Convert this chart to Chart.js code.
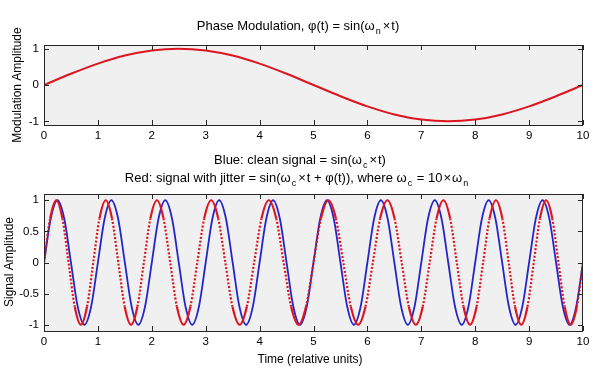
<!DOCTYPE html>
<html lang="en">
<head>
  <meta charset="UTF-8">
  <title>Phase modulation jitter</title>
  <script src="https://cdn.jsdelivr.net/npm/chart.js"></script>
  <style>
    body {
      margin: 0;
      background: #fff;
    }
    #wrap {
      position: relative;
      width: 598px;
      height: 371px;
    }
    canvas {
      position: absolute;
      left: 0;
    }
    #modChart { top: 0; }
    #sigChart { top: 145px; }
  </style>
</head>
<body>
  <div id="wrap">
    <canvas id="modChart" width="598" height="145"></canvas>
    <canvas id="sigChart" width="598" height="226"></canvas>
  </div>

  <script>
    // tick labels
    const xTicks = [0, 1, 2, 3, 4, 5, 6, 7, 8, 9, 10];
    const modTicksY = [-1, 0, 1];
    const sigTicksY = [-1, -0.5, 0, 0.5, 1];

    // top panel: phase modulation curve
    const modT = [0, 0.5, 1, 1.5, 2, 2.5, 3, 3.5, 4, 4.5, 5, 5.5, 6, 6.5, 7, 7.5, 8, 8.5, 9, 9.5, 10];
    const modY = [0, 0.309, 0.588, 0.809, 0.951, 1, 0.951, 0.809, 0.588, 0.309, 0,
                  -0.309, -0.588, -0.809, -0.951, -1, -0.951, -0.809, -0.588, -0.309, 0];

    // bottom panel: both waves pass through the same amplitudes, at different times
    const waveY = [
      0, 0.707, 1, 0.707, 0, -0.707, -1, -0.707,
      0, 0.707, 1, 0.707, 0, -0.707, -1, -0.707,
      0, 0.707, 1, 0.707, 0, -0.707, -1, -0.707,
      0, 0.707, 1, 0.707, 0, -0.707, -1, -0.707,
      0, 0.707, 1, 0.707, 0, -0.707, -1, -0.707,
      0, 0.707, 1, 0.707, 0, -0.707, -1, -0.707,
      0, 0.707, 1, 0.707, 0, -0.707, -1, -0.707,
      0, 0.707, 1, 0.707, 0, -0.707, -1, -0.707,
      0, 0.707, 1, 0.707, 0, -0.707, -1, -0.707,
      0, 0.707, 1, 0.707, 0, -0.707, -1, -0.707,
      0
    ];
    const cleanT = [
      0, 0.125, 0.25, 0.375, 0.5, 0.625, 0.75, 0.875,
      1, 1.125, 1.25, 1.375, 1.5, 1.625, 1.75, 1.875,
      2, 2.125, 2.25, 2.375, 2.5, 2.625, 2.75, 2.875,
      3, 3.125, 3.25, 3.375, 3.5, 3.625, 3.75, 3.875,
      4, 4.125, 4.25, 4.375, 4.5, 4.625, 4.75, 4.875,
      5, 5.125, 5.25, 5.375, 5.5, 5.625, 5.75, 5.875,
      6, 6.125, 6.25, 6.375, 6.5, 6.625, 6.75, 6.875,
      7, 7.125, 7.25, 7.375, 7.5, 7.625, 7.75, 7.875,
      8, 8.125, 8.25, 8.375, 8.5, 8.625, 8.75, 8.875,
      9, 9.125, 9.25, 9.375, 9.5, 9.625, 9.75, 9.875,
      10
    ];
    const jitterT = [
      0, 0.1138, 0.2276, 0.3415, 0.4555, 0.5697, 0.6842, 0.7989,
      0.9140, 1.0295, 1.1454, 1.2618, 1.3788, 1.4964, 1.6146, 1.7336,
      1.8533, 1.9739, 2.0953, 2.2176, 2.3416, 2.4651, 2.5904, 2.7166,
      2.8440, 2.9723, 3.1018, 3.2322, 3.3637, 3.4961, 3.6295, 3.7638,
      3.8989, 4.0348, 4.1713, 4.3085, 4.4461, 4.5842, 4.7226, 4.8613,
      5.0, 5.1387, 5.2774, 5.4158, 5.5539, 5.6915, 5.8287, 5.9652,
      6.1011, 6.2362, 6.3705, 6.5039, 6.6363, 6.7678, 6.8982, 7.0277,
      7.1560, 7.2834, 7.4096, 7.5349, 7.6584, 7.7824, 7.9047, 8.0261,
      8.1467, 8.2664, 8.3854, 8.5036, 8.6212, 8.7382, 8.8546, 8.9705,
      9.0860, 9.2011, 9.3158, 9.4303, 9.5445, 9.6585, 9.7724, 9.8862,
      10
    ];

    const FONT = "'Liberation Sans', Arial, sans-serif";
    const RED = '#dd1520';
    const BLUE = '#2626c8';

    const pairs = (xs, ys) => xs.map((x, i) => ({ x: x, y: ys[i] }));

    // text with subscripts, centred on cx (pad = extra room each side)
    function drawRich(ctx, parts, cx, y, size) {
      const big = size + 'px ' + FONT, small = Math.round(size * 0.7) + 'px ' + FONT;
      const extra = p => (p.sub ? 2 : 0) + 2 * (p.pad || 0);
      let w = 0;
      parts.forEach(p => {
        ctx.font = p.sub ? small : big;
        w += ctx.measureText(p.t).width + extra(p);
      });
      let x = cx - w / 2;
      ctx.textAlign = 'left';
      ctx.textBaseline = 'alphabetic';
      parts.forEach(p => {
        ctx.font = p.sub ? small : big;
        const before = p.sub ? 1 : (p.pad || 0);
        ctx.fillText(p.t, x + before, p.sub ? y + 4 : y);
        x += ctx.measureText(p.t).width + extra(p);
      });
    }

    function drawVertical(ctx, text, cx, cy) {
      ctx.save();
      ctx.translate(cx, cy);
      ctx.rotate(-Math.PI / 2);
      ctx.font = '12px ' + FONT;
      ctx.textAlign = 'center';
      ctx.textBaseline = 'middle';
      ctx.fillText(text, 0, 0);
      ctx.restore();
    }

    // grey plot area, boxed axes with inward ticks, titles
    const framePlugin = {
      id: 'frame',
      beforeDraw(chart) {
        const a = chart.chartArea, ctx = chart.ctx;
        ctx.save();
        ctx.fillStyle = '#f0f0f0';
        ctx.fillRect(a.left, a.top, a.right - a.left, a.bottom - a.top);
        ctx.restore();
      },
      afterDraw(chart, args, opts) {
        const a = chart.chartArea, ctx = chart.ctx;
        const sx = chart.scales.x, sy = chart.scales.y;
        ctx.save();
        ctx.strokeStyle = '#262626';
        ctx.lineWidth = 1;
        ctx.strokeRect(a.left + 0.5, a.top + 0.5, a.right - a.left - 1, a.bottom - a.top);
        ctx.beginPath();
        sx.ticks.forEach(t => {
          const px = Math.round(sx.getPixelForValue(t.value)) + 0.5;
          ctx.moveTo(px, a.bottom); ctx.lineTo(px, a.bottom - 5);
          ctx.moveTo(px, a.top); ctx.lineTo(px, a.top + 5);
        });
        sy.ticks.forEach(t => {
          const py = Math.round(sy.getPixelForValue(t.value)) + 0.5;
          ctx.moveTo(a.left, py); ctx.lineTo(a.left + 5, py);
          ctx.moveTo(a.right, py); ctx.lineTo(a.right - 5, py);
        });
        ctx.stroke();
        ctx.fillStyle = '#000';
        (opts.titles || []).forEach(tl => drawRich(ctx, tl.parts, tl.x, tl.y, tl.size));
        (opts.vertical || []).forEach(v => drawVertical(ctx, v.t, v.x, v.y));
        ctx.restore();
      }
    };

    function makeOptions(yTicks, padTop, xHeight, frame) {
      const tickFont = { family: FONT, size: 11.5 };
      return {
        responsive: false,
        animation: false,
        devicePixelRatio: 1,
        layout: { padding: { top: padTop, right: 15, left: 0, bottom: 0 } },
        elements: { point: { radius: 0 } },
        plugins: {
          legend: { display: false },
          tooltip: { enabled: false },
          frame: frame
        },
        scales: {
          x: {
            type: 'linear', min: 0, max: 10,
            grid: { display: false, drawTicks: false },
            border: { display: false },
            afterBuildTicks: s => { s.ticks = xTicks.map(v => ({ value: v })); },
            afterFit: s => { s.height = xHeight; },
            ticks: { padding: 4, color: '#000', font: tickFont, maxRotation: 0, autoSkip: false }
          },
          y: {
            min: -1.1, max: 1.1,
            grid: { display: false, drawTicks: false },
            border: { display: false },
            afterBuildTicks: s => { s.ticks = yTicks.map(v => ({ value: v })); },
            afterFit: s => { s.width = 44; },
            ticks: { padding: 5, color: '#000', font: tickFont, callback: v => String(v) }
          }
        }
      };
    }

    new Chart(document.getElementById('modChart'), {
      type: 'line',
      data: {
        datasets: [{
          data: pairs(modT, modY),
          borderColor: RED,
          borderWidth: 2,
          cubicInterpolationMode: 'monotone'
        }]
      },
      options: makeOptions(modTicksY, 45, 20, {
        titles: [{ x: 298, y: 30, size: 13, parts: [
          { t: 'Phase Modulation, φ(t) = sin(ω' }, { t: 'n', sub: true }, { t: '×', pad: 1 }, { t: 't)' }
        ] }],
        vertical: [{ t: 'Modulation Amplitude', x: 18, y: 85 }]
      }),
      plugins: [framePlugin]
    });

    new Chart(document.getElementById('sigChart'), {
      type: 'line',
      data: {
        datasets: [{
          label: 'jitter',
          data: pairs(jitterT, waveY),
          borderColor: RED,
          borderWidth: 2.2,
          cubicInterpolationMode: 'monotone',
          segment: {
            borderDash: c => (Math.abs(c.p0.parsed.y) > 0.9 || Math.abs(c.p1.parsed.y) > 0.9) ? undefined : [2, 1.8]
          }
        }, {
          label: 'clean',
          data: pairs(cleanT, waveY),
          borderColor: BLUE,
          borderWidth: 1.8,
          cubicInterpolationMode: 'monotone'
        }]
      },
      options: makeOptions(sigTicksY, 49, 40, {
        titles: [
          { x: 300, y: 19, size: 13, parts: [
            { t: 'Blue: clean signal = sin(ω' }, { t: 'c', sub: true }, { t: '×', pad: 1 }, { t: 't)' }
          ] },
          { x: 297, y: 37, size: 13, parts: [
            { t: 'Red: signal with jitter = sin(ω' }, { t: 'c', sub: true }, { t: '×', pad: 1 },
            { t: 't + φ(t)), where ω' }, { t: 'c', sub: true },
            { t: ' = 10' }, { t: '×', pad: 1 }, { t: 'ω' }, { t: 'n', sub: true }
          ] },
          { x: 310, y: 218, size: 12, parts: [{ t: 'Time (relative units)' }] }
        ],
        vertical: [{ t: 'Signal Amplitude', x: 10, y: 117 }]
      }),
      plugins: [framePlugin]
    });
  </script>
</body>
</html>
